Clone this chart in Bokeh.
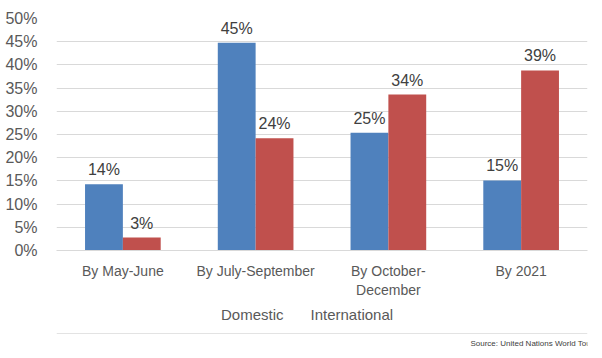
from bokeh.plotting import figure
from bokeh.models import (FactorRange, Range1d, ColumnDataSource, FixedTicker,
                          Legend, LegendItem, Label, LabelSet, Span)
from bokeh.layouts import column
from bokeh.transform import dodge
from bokeh.embed import file_html
from bokeh.resources import INLINE
from bokeh.core.properties import value

categories = ["By May-June", "By July-September", "By October-\nDecember", "By 2021"]
domestic = [14.3, 44.8, 25.4, 15.1]
international = [2.8, 24.2, 33.6, 38.8]
y_ticks = [0, 5, 10, 15, 20, 25, 30, 35, 40, 45, 50]
series_names = ["Domestic", "International"]
source_text = "Source: United Nations World Tourism Organisation"

BLUE = "#4F81BD"
RED = "#C0504D"
FONT = "Liberation Sans"

src = ColumnDataSource(dict(
    cat=categories,
    dom=domestic,
    intl=international,
    dom_lbl=[f"{round(v)}%" for v in domestic],
    intl_lbl=[f"{round(v)}%" for v in international],
))

p = figure(frame_width=531, frame_height=232, x_range=FactorRange(*categories),
           y_range=Range1d(0, 50), output_backend="svg", toolbar_location=None,
           min_border_left=56, min_border_right=15, min_border_top=18,
           min_border_bottom=47)
p.outline_line_color = None

bw = 0.285
r1 = p.vbar(x=dodge("cat", -bw / 2, range=p.x_range), top="dom", width=bw,
            source=src, fill_color=BLUE, line_color=None)
r2 = p.vbar(x=dodge("cat", bw / 2, range=p.x_range), top="intl", width=bw,
            source=src, fill_color=RED, line_color=None)

for off, ycol, lcol in [(-bw / 2, "dom", "dom_lbl"), (bw / 2, "intl", "intl_lbl")]:
    p.add_layout(LabelSet(x=dodge("cat", off, range=p.x_range), y=ycol, text=lcol, source=src,
                          y_offset=6, text_align="center", text_baseline="bottom",
                          text_font=value(FONT), text_font_size="16px", text_color="#404040"))

p.yaxis.ticker = FixedTicker(ticks=y_ticks)
p.yaxis.major_label_overrides = {t: f"{t}%" for t in y_ticks}
p.yaxis.axis_line_color = None
p.yaxis.major_tick_line_color = None
p.yaxis.minor_tick_line_color = None
p.yaxis.major_label_standoff = 13
p.yaxis.major_label_text_font = FONT
p.yaxis.major_label_text_font_size = "16px"
p.yaxis.major_label_text_color = "#595959"

p.xaxis.axis_line_color = "#D9D9D9"
p.xaxis.major_tick_line_color = None
p.xaxis.minor_tick_line_color = None
p.xaxis.major_label_standoff = 6
p.xaxis.major_label_text_font = FONT
p.xaxis.major_label_text_font_size = "14px"
p.xaxis.major_label_text_color = "#595959"

p.xgrid.grid_line_color = None
p.ygrid.grid_line_color = "#D9D9D9"
p.ygrid.ticker = FixedTicker(ticks=y_ticks)

# Legend / source strip below the chart
p2 = figure(width=602, height=61, x_range=Range1d(0, 1), y_range=Range1d(0, 1),
            output_backend="svg", toolbar_location=None,
            min_border_left=0, min_border_right=0, min_border_top=0, min_border_bottom=0)
p2.axis.visible = False
p2.grid.visible = False
p2.outline_line_color = None
l1 = p2.vbar(x=[], top=[], width=0.1, fill_color=BLUE, line_color=None)
l2 = p2.vbar(x=[], top=[], width=0.1, fill_color=RED, line_color=None)

legend = Legend(items=[LegendItem(label=series_names[0], renderers=[l1]),
                       LegendItem(label=series_names[1], renderers=[l2])],
                orientation="horizontal", location=(152, 38),
                glyph_width=8, glyph_height=8, label_text_font=FONT,
                label_text_font_size="15px", label_text_color="#595959",
                spacing=14, padding=0, margin=0, border_line_color=None,
                background_fill_alpha=0, label_standoff=5)
p2.add_layout(legend, "center")

p2.add_layout(Span(location=28, location_units="screen", dimension="width",
                   line_color="#E3E3E3", line_width=1))
p2.add_layout(Label(x=597, y=18, x_units="screen", y_units="screen", text=source_text,
                    text_align="right", text_baseline="middle", text_font=FONT,
                    text_font_size="8px", text_color="#404040"))

layout = column(p, p2, spacing=0)
open("out.html", "w").write(file_html(layout, INLINE))
